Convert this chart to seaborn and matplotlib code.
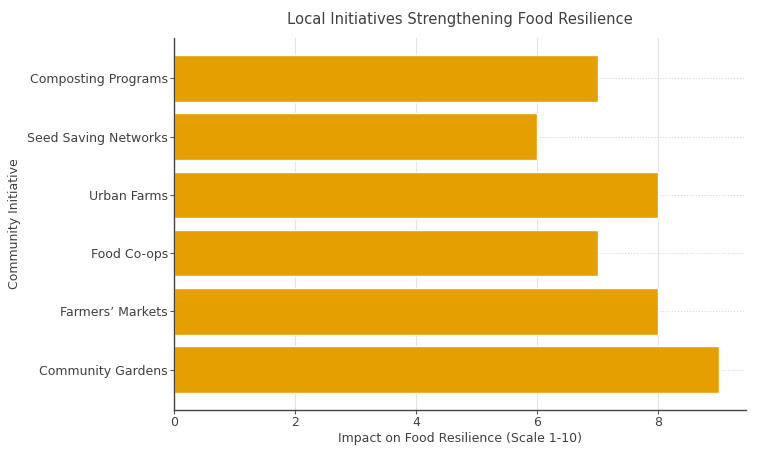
import matplotlib
matplotlib.use("Agg")
import matplotlib.pyplot as plt
import seaborn as sns
import pandas as pd

initiatives = ["Composting Programs", "Seed Saving Networks", "Urban Farms",
               "Food Co-ops", "Farmers’ Markets", "Community Gardens"]
impact = [7, 6, 8, 7, 8, 9]

df = pd.DataFrame({"Initiative": initiatives, "Impact": impact})

sns.set_style("white")
plt.rcParams['font.family'] = ['DejaVu Sans']
text_color = "#404040"

fig = plt.figure(figsize=(7.58, 4.55), dpi=100)
ax = fig.add_axes([0.2296, 0.0989, 0.7544, 0.8176])

sns.barplot(data=df, x="Impact", y="Initiative", color="#E69F00", saturation=1,
            width=0.8, ax=ax, orient="h")

ax.set_xlim(0, 9.45)
ax.set_ylim(5.69, -0.69)
ax.set_xticks([0, 2, 4, 6, 8])

ax.set_axisbelow(True)
ax.grid(axis="x", color="#dddddd", linestyle="-", linewidth=0.8, alpha=0.8)
ax.grid(axis="y", color="#cccccc", linestyle=":", linewidth=0.8, alpha=0.8)

for s in ["top", "right"]:
    ax.spines[s].set_visible(False)
for s in ["left", "bottom"]:
    ax.spines[s].set_color("#444444")
    ax.spines[s].set_linewidth(1.0)

ax.tick_params(axis="both", colors="#555555", labelcolor=text_color, labelsize=9,
               length=3, width=0.8, left=True, bottom=True, pad=1.5)

ax.set_title("Local Initiatives Strengthening Food Resilience", fontsize=10.6,
             color=text_color, pad=10)
ax.set_xlabel("Impact on Food Resilience (Scale 1-10)", fontsize=9, color=text_color,
              labelpad=2)
ax.set_ylabel("Community Initiative", fontsize=9, color=text_color, labelpad=4)

fig.savefig("out.png", dpi=100)
